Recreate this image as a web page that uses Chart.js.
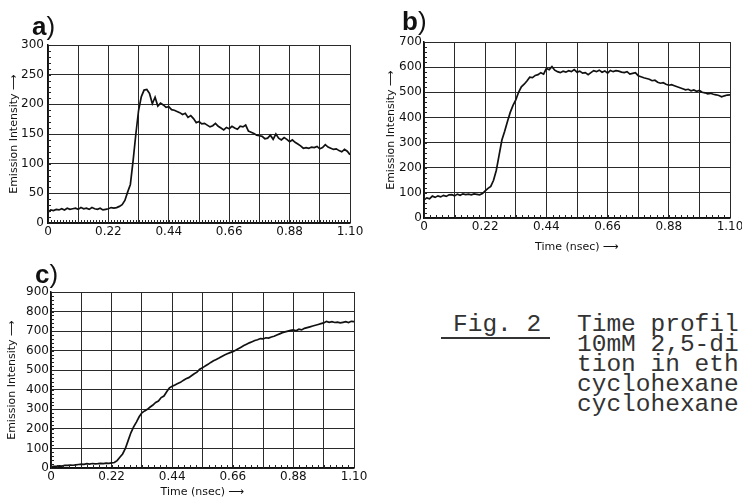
<!DOCTYPE html>
<html>
<head>
<meta charset="utf-8">
<script src="https://cdn.jsdelivr.net/npm/chart.js@4.4.1/dist/chart.umd.min.js"></script>
<style>
  html, body { margin: 0; padding: 0; background: #fff; }
  body { width: 742px; height: 499px; position: relative; overflow: hidden; }
  .wrap { position: absolute; }
  .lab { position: absolute; font-family: "Liberation Sans", sans-serif; font-size: 26px; line-height: 26px; color: #111; white-space: pre; }
  .lab b { font-weight: bold; }
  .lab span { font-weight: normal; }
  .cap { position: absolute; font-family: "Liberation Mono", monospace; font-size: 24.5px; line-height: 20px; color: #333; white-space: pre; }
  .uline { position: absolute; left: 441px; top: 337px; width: 109px; height: 1.5px; background: #333; }
</style>
</head>
<body>
<div class="wrap" style="left:0;top:0;width:372px;height:250px;"><canvas id="ca"></canvas></div>
<div class="wrap" style="left:375px;top:0;width:367px;height:260px;"><canvas id="cb"></canvas></div>
<div class="wrap" style="left:0;top:262px;width:375px;height:237px;"><canvas id="cc"></canvas></div>

<div class="lab" style="left:32px;top:13px;"><b>a</b><span>)</span></div>
<div class="lab" style="left:402px;top:8px;"><b>b</b><span>)</span></div>
<div class="lab" style="left:35px;top:261px;"><b>c</b><span>)</span></div>

<div class="cap" style="left:453px;top:314.5px;">Fig. 2</div>
<div class="uline"></div>
<div class="cap" style="left:577px;top:314.5px;">Time profil
10mM 2,5-di
tion in eth
cyclohexane
cyclohexane</div>

<script>
// ---- data (time axis in nsec, sampled every 0.01 ns) ----
const times = Array.from({length: 111}, (_, i) => +(i * 0.01).toFixed(2));

const seriesA = [
  18, 22, 21, 23, 22, 24, 22, 25, 23, 24,
  25, 23, 26, 24, 25, 23, 26, 24, 23, 25,
  22, 23, 24, 26, 25, 26, 28, 31, 38, 52,
  65, 105, 150, 190, 213, 224, 225, 218, 201, 212,
  197, 202, 199, 195, 196, 191, 190, 188, 186, 183,
  185, 178, 181, 176, 169, 171, 167, 168, 165, 162,
  164, 168, 163, 160, 157, 161, 159, 163, 160, 158,
  163, 162, 165, 155, 153, 151, 148, 147, 146, 142,
  143, 148, 141, 150, 143, 140, 144, 141, 137, 140,
  136, 133, 130, 126, 127, 126, 128, 127, 129, 125,
  127, 132, 128, 126, 124, 125, 122, 120, 124, 121,
  115
];

const seriesB = [
  72, 80, 76, 87, 82, 88, 84, 90, 86, 92,
  93, 88, 95, 90, 96, 93, 95, 92, 96, 94,
  92, 97, 108, 118, 126, 150, 190, 250, 310, 345,
  384, 420, 448, 470, 500, 522, 532, 545, 560, 558,
  567, 570, 578, 572, 595, 590, 602, 588, 582, 578,
  584, 580, 586, 582, 590, 580, 584, 576, 578, 570,
  578, 586, 582, 588, 580, 585, 576, 587, 582, 586,
  584, 580, 578, 582, 572, 575, 578, 566, 562, 558,
  555, 552, 546, 548, 540, 536, 538, 532, 528, 530,
  526, 522, 518, 514, 510, 512, 506, 509, 504, 507,
  500, 498, 494, 496, 492, 490, 487, 482, 486, 489,
  490
];

const seriesC = [
  6, 9, 8, 11, 10, 14, 13, 15, 14, 16,
  18, 20, 19, 22, 20, 23, 21, 22, 24, 22,
  25, 24, 26, 28, 38, 55, 72, 100, 140, 180,
  210, 235, 262, 282, 292, 300, 312, 322, 335, 342,
  360, 368, 390, 410, 418, 425, 432, 438, 448, 456,
  462, 472, 482, 490, 505, 512, 522, 530, 540, 548,
  555, 562, 570, 578, 584, 590, 595, 602, 610, 618,
  626, 633, 640, 646, 652, 656, 662, 660, 666, 664,
  670, 674, 680, 686, 692, 696, 700, 704, 706, 702,
  710, 706, 714, 718, 722, 726, 730, 734, 738, 742,
  750, 745, 748, 744, 746, 742, 745, 748, 744, 750,
  748
];

const xGridValues = [0, 0.11, 0.22, 0.33, 0.44, 0.55, 0.66, 0.77, 0.88, 0.99, 1.10];
const xTickLabels = ['0', '0.22', '0.44', '0.66', '0.88', '1.10'];
const yTicksA = [0, 50, 100, 150, 200, 250, 300];
const yTicksB = [0, 100, 200, 300, 400, 500, 600, 700];
const yTicksC = [0, 100, 200, 300, 400, 500, 600, 700, 800, 900];

const yTitle = 'Emission Intensity \u27F6';
const xTitle = 'Time (nsec) \u27F6';

// ---- minor inward ticks along left and bottom axes ----
const minorTicks = {
  id: 'minorTicks',
  afterDatasetsDraw(chart, args, o) {
    const {ctx, chartArea: a, scales: {x, y}} = chart;
    ctx.save();
    ctx.strokeStyle = '#222';
    ctx.lineWidth = 1;
    ctx.beginPath();
    const nx = Math.round((x.max - x.min) / o.xStep);
    for (let i = 0; i <= nx; i++) {
      const px = Math.round(x.getPixelForValue(x.min + i * o.xStep)) + 0.5;
      ctx.moveTo(px, a.bottom);
      ctx.lineTo(px, a.bottom - o.len);
    }
    const ny = Math.round((y.max - y.min) / o.yStep);
    for (let i = 0; i <= ny; i++) {
      const py = Math.round(y.getPixelForValue(y.min + i * o.yStep)) + 0.5;
      ctx.moveTo(a.left, py);
      ctx.lineTo(a.left + o.len, py);
    }
    ctx.stroke();
    ctx.restore();
  }
};

const tickFont = {family: 'DejaVu Sans', size: 12};
const titleFont = {family: 'DejaVu Sans', size: 11};

function makeChart(id, values, yTicks, cfg) {
  const pts = times.map((t, i) => ({x: t, y: values[i]}));
  return new Chart(document.getElementById(id), {
    type: 'line',
    data: {datasets: [{data: pts, borderColor: '#111', borderWidth: 1.7, pointRadius: 0, tension: 0, fill: false}]},
    plugins: [minorTicks],
    options: {
      responsive: true,
      maintainAspectRatio: false,
      animation: false,
      events: [],
      layout: {padding: {top: cfg.padTop, right: cfg.padRight, left: 0, bottom: 0}},
      plugins: {
        legend: {display: false},
        tooltip: {enabled: false},
        minorTicks: cfg.minor
      },
      scales: {
        x: {
          type: 'linear',
          min: 0,
          max: 1.1,
          afterBuildTicks: s => { s.ticks = xGridValues.map(v => ({value: v})); },
          afterFit: s => { s.height = cfg.xHeight; s.paddingLeft = 0; s.paddingRight = 0; },
          ticks: {
            autoSkip: false,
            maxRotation: 0,
            minRotation: 0,
            padding: cfg.xTickPad,
            color: '#111',
            font: tickFont,
            callback: (v, i) => (i % 2 === 0 ? xTickLabels[i / 2] : '')
          },
          grid: {color: '#2a2a2a', lineWidth: 1, drawTicks: false},
          border: {color: '#111', width: 1.5},
          title: {
            display: cfg.showXTitle,
            text: xTitle,
            color: '#111',
            font: titleFont,
            padding: {top: 0, bottom: cfg.xTitlePad}
          }
        },
        y: {
          type: 'linear',
          min: 0,
          max: yTicks[yTicks.length - 1],
          afterBuildTicks: s => { s.ticks = yTicks.map(v => ({value: v})); },
          afterFit: s => { s.width = cfg.yWidth; s.paddingTop = 0; s.paddingBottom = 0; },
          ticks: {padding: cfg.yTickPad, color: '#111', font: tickFont},
          grid: {color: '#2a2a2a', lineWidth: 1, drawTicks: false},
          border: {color: '#111', width: 1.5},
          title: {
            display: true,
            text: yTitle,
            color: '#111',
            font: titleFont,
            padding: {top: cfg.yTitlePad, bottom: 0}
          }
        }
      }
    }
  });
}

makeChart('ca', seriesA, yTicksA, {
  padTop: 45, padRight: 22, yWidth: 48, xHeight: 27, xTickPad: 2, yTickPad: 4,
  showXTitle: false, xTitlePad: 0, yTitlePad: 8,
  minor: {xStep: 0.011, yStep: 10, len: 3}
});
makeChart('cb', seriesB, yTicksB, {
  padTop: 42, padRight: 12, yWidth: 49, xHeight: 42, xTickPad: 2, yTickPad: 2,
  showXTitle: true, xTitlePad: 6, yTitlePad: 10,
  minor: {xStep: 0.022, yStep: 20, len: 3}
});
makeChart('cc', seriesC, yTicksC, {
  padTop: 30, padRight: 21, yWidth: 51, xHeight: 31, xTickPad: 2, yTickPad: 2,
  showXTitle: true, xTitlePad: 0, yTitlePad: 6,
  minor: {xStep: 0.022, yStep: 20, len: 3}
});
</script>
</body>
</html>
